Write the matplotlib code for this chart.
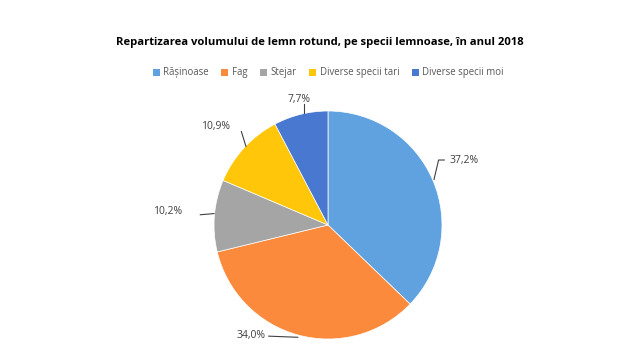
import matplotlib
matplotlib.use("Agg")
import matplotlib.pyplot as plt
import numpy as np
from matplotlib.patches import Patch

categories = ["Rășinoase", "Fag", "Stejar", "Diverse specii tari", "Diverse specii moi"]
values = [37.2, 34.0, 10.2, 10.9, 7.7]
labels = ["37,2%", "34,0%", "10,2%", "10,9%", "7,7%"]
colors = ["#5FA2DF", "#FB8A3C", "#A5A5A5", "#FFC60A", "#4878CF"]
title = "Repartizarea volumului de lemn rotund, pe specii lemnoase, în anul 2018"

W, H = 640, 352
cx, cy, R = 328, 225, 114
fig = plt.figure(figsize=(W/100, H/100), dpi=100)
ax = fig.add_axes([0, 0, 1, 1])

wedges, _ = ax.pie(values, colors=colors, startangle=90, counterclock=False,
                   radius=1.0, center=(0, 0),
                   wedgeprops=dict(edgecolor="white", linewidth=0.5))
ax.set_xlim(-cx/R, (W-cx)/R)
ax.set_ylim((cy-H)/R, cy/R)
ax.set_aspect("auto")
ax.axis("off")

text_pos = [(1.07, 0.57), (-0.55, -0.965), (-1.28, 0.115), (-0.86, 0.86), (-0.25, 1.1)]
line_pts = [[(0.93, 0.40), (0.97, 0.57), (1.02, 0.57)],
            [(-0.265, -0.985), (-0.52, -0.975)],
            [(-1.0, 0.10), (-1.12, 0.09)],
            [(-0.72, 0.69), (-0.76, 0.82)],
            [(-0.21, 0.98), (-0.21, 1.06)]]
has = ["left", "right", "right", "right", "center"]
for lab, (tx, ty), pts, ha in zip(labels, text_pos, line_pts, has):
    xs, ys = zip(*pts)
    ax.plot(xs, ys, color="#404040", lw=0.8)
    ax.text(tx, ty, lab, ha=ha, va="center", fontsize=7.5, color="#404040",
            family="Open Sans")

fig.text(0.5, 1 - 42/H, title, ha="center", va="center", fontsize=8.1,
         fontweight="bold", family="Open Sans", color="#000000")

handles = [Patch(facecolor=c, edgecolor="none") for c in colors]
fig.legend(handles, categories, loc="center", bbox_to_anchor=(0.513, 1 - 73/H),
           ncol=5, frameon=False, handlelength=0.7, handleheight=0.7,
           handletextpad=0.4, columnspacing=1.3, labelcolor="#595959",
           prop=dict(family="Open Sans", size=6.9))

fig.savefig("out.png", dpi=100, facecolor="white")
